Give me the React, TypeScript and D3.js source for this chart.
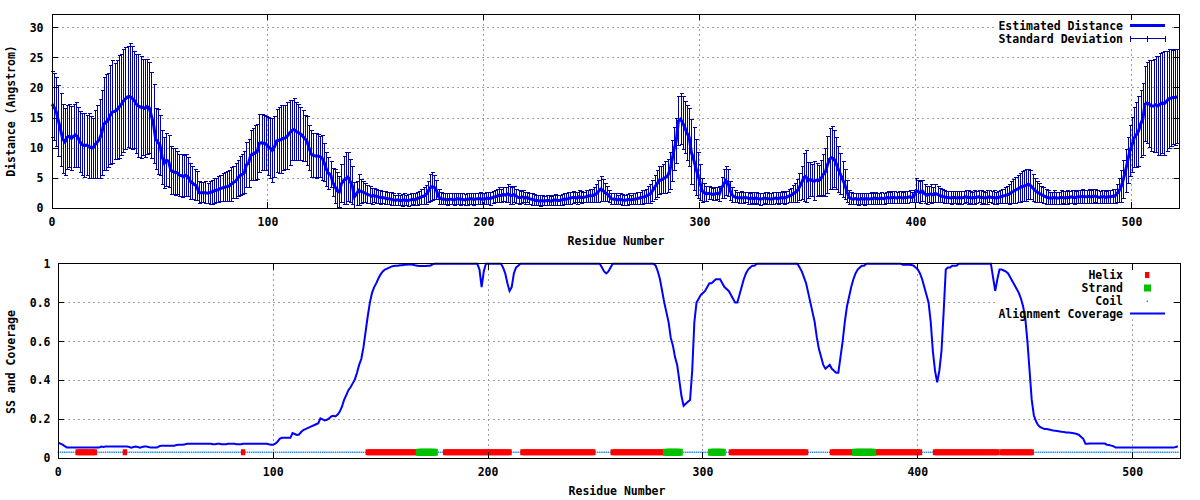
import React from "react";
import * as d3 from "d3";

// ---------- DATA ----------
// Estimated distance per residue (Angstrom), residues 0..521
const meanDistance: number[] = [
  17.3,16.8,16.0,14.5,13.0,11.5,11.0,11.8,12.0,11.6,
  12.0,12.2,11.8,11.0,10.6,10.4,10.5,10.3,10.1,10.0,
  10.6,11.0,11.5,12.5,14.0,14.3,14.6,15.5,16.0,16.1,
  16.3,16.8,17.2,17.8,18.2,18.5,18.6,18.3,18.0,17.3,
  17.0,16.8,16.8,16.6,16.9,16.7,15.4,14.0,11.5,11.0,
  10.5,8.5,7.5,8.0,7.8,6.3,6.1,6.0,5.9,5.5,
  5.4,5.3,5.5,5.2,4.5,4.2,3.9,3.7,2.6,2.6,
  2.6,2.6,2.5,2.6,2.7,2.9,3.0,3.1,3.3,3.4,
  3.5,3.6,3.7,4.0,4.3,4.5,5.0,5.4,5.6,5.9,
  7.2,7.5,8.8,9.0,9.2,9.4,10.8,10.9,10.8,10.7,
  10.3,10.0,9.6,10.2,11.2,11.3,11.4,11.6,11.7,12.0,
  12.5,12.9,13.1,12.8,12.6,12.4,12.0,11.6,11.2,10.0,
  9.0,8.8,8.7,8.7,8.6,8.4,7.6,6.5,5.8,5.6,
  4.3,3.6,2.9,2.7,4.1,4.6,4.9,5.2,4.5,3.8,
  1.9,2.4,3.0,2.8,2.7,2.5,2.3,2.2,2.0,2.1,
  2.0,1.9,1.8,1.8,1.7,1.6,1.6,1.5,1.4,1.3,
  1.4,1.3,1.3,1.4,1.3,1.3,1.4,1.5,1.4,1.6,
  1.7,1.9,2.0,2.2,2.7,3.4,3.6,3.5,3.0,1.9,
  1.6,1.5,1.5,1.4,1.5,1.5,1.4,1.5,1.6,1.5,
  1.5,1.4,1.5,1.5,1.6,1.5,1.5,1.6,1.6,1.5,
  1.6,1.6,1.7,1.6,1.8,1.9,2.0,2.2,2.1,2.3,
  2.2,2.4,2.2,2.1,2.3,2.0,1.8,1.8,1.9,1.7,
  1.8,1.6,1.5,1.4,1.3,1.3,1.2,1.3,1.2,1.3,
  1.3,1.2,1.3,1.4,1.3,1.3,1.4,1.5,1.5,1.6,
  1.7,1.8,1.8,1.7,1.9,1.8,1.8,1.9,2.0,2.1,
  2.1,2.2,2.4,2.8,3.2,3.0,2.6,2.4,2.0,1.6,
  1.5,1.5,1.4,1.5,1.4,1.3,1.4,1.5,1.4,1.5,
  1.5,1.6,1.7,1.8,1.9,2.0,2.2,2.4,2.9,3.5,
  4.0,4.6,4.7,4.9,5.1,5.4,6.2,7.9,9.8,11.2,
  14.5,14.8,14.2,13.4,12.5,11.8,9.3,8.2,6.8,5.5,
  4.3,2.9,2.6,2.4,2.5,2.4,2.3,2.4,2.5,2.4,
  3.4,4.0,4.6,4.2,2.9,2.2,1.9,1.8,1.7,1.8,
  1.7,1.8,1.7,1.6,1.7,1.6,1.7,1.6,1.5,1.6,
  1.7,1.6,1.6,1.5,1.6,1.7,1.6,1.7,1.8,1.7,
  1.8,2.0,2.1,2.4,2.6,2.9,3.5,4.2,5.1,5.3,
  4.6,4.8,4.6,4.5,4.7,4.6,4.9,5.6,6.0,7.2,
  8.2,8.4,8.2,7.5,6.5,5.7,4.8,4.0,2.8,1.8,
  1.6,1.5,1.6,1.5,1.5,1.6,1.5,1.6,1.5,1.6,
  1.6,1.7,1.6,1.6,1.7,1.6,1.7,1.8,1.7,1.8,
  1.8,1.7,1.8,1.8,1.7,1.8,1.8,1.9,1.8,1.9,
  2.9,2.8,2.6,2.9,2.4,2.2,2.3,2.4,2.2,2.5,
  2.3,2.1,2.0,1.9,1.8,1.8,1.7,1.8,1.8,1.7,
  1.8,1.7,1.8,1.9,1.8,1.8,1.7,1.8,1.8,1.9,
  1.8,1.8,1.7,1.8,1.9,1.8,1.8,1.7,1.8,1.9,
  2.0,2.1,2.2,2.3,2.6,2.8,3.0,3.2,3.4,3.6,
  3.7,3.8,4.0,3.8,3.4,3.0,2.7,2.5,2.3,2.1,
  1.9,1.8,1.7,1.7,1.8,1.7,1.7,1.8,1.8,1.7,
  1.8,1.8,1.9,1.8,1.8,1.9,1.9,2.0,1.9,1.9,
  2.0,1.9,2.0,2.0,1.9,1.8,1.9,1.9,1.8,1.9,
  1.9,2.0,2.0,2.4,2.9,3.6,4.8,6.2,7.9,9.5,
  10.5,11.7,12.2,12.8,14.0,14.8,17.3,17.5,17.3,17.0,
  17.0,17.2,17.0,17.3,17.5,17.4,17.8,18.2,18.3,18.4,
  18.4,18.5,
];

// Standard deviation per residue (Angstrom)
const stdDeviation: number[] = [
  5.5,5.6,5.8,5.9,6.0,5.8,5.6,5.3,5.2,5.3,
  5.2,5.4,5.0,5.1,5.2,5.3,5.0,5.4,5.2,5.0,
  5.6,6.0,6.5,7.0,7.8,8.0,7.8,8.2,8.5,8.0,
  8.2,8.6,8.4,8.6,8.5,8.4,8.7,8.5,8.0,8.2,
  8.6,8.5,8.0,8.2,7.9,7.6,7.2,6.5,5.0,5.4,
  5.0,4.5,4.2,4.4,4.3,4.0,3.8,3.9,3.6,3.5,
  3.6,3.4,3.5,3.2,3.0,2.8,2.6,2.4,1.8,1.7,
  1.7,1.8,1.7,1.9,2.0,2.1,2.0,2.2,2.2,2.3,
  2.4,2.5,2.6,2.8,2.7,2.9,3.0,3.2,3.3,3.5,
  3.8,4.0,4.2,4.3,4.5,4.6,4.8,4.7,4.6,4.5,
  4.8,5.0,5.3,5.0,5.2,5.5,5.6,5.4,5.3,5.5,
  5.4,5.0,5.2,4.8,4.6,4.4,4.2,3.9,4.1,3.8,
  3.9,3.6,3.8,3.5,3.4,3.7,3.2,2.8,2.6,2.2,
  2.3,2.8,3.0,2.6,3.2,4.0,4.3,4.0,3.6,3.2,
  2.4,2.0,2.6,2.0,1.8,1.6,1.5,1.4,1.3,1.2,
  1.2,1.1,1.2,1.0,1.1,1.0,1.0,1.1,1.0,0.9,
  1.0,0.9,1.0,1.0,0.9,1.0,1.0,0.9,1.0,1.1,
  1.1,1.2,1.4,1.6,1.8,2.2,2.3,2.0,1.6,1.2,
  1.0,0.9,0.9,1.0,0.9,0.9,1.0,0.9,0.9,1.0,
  0.9,0.9,1.0,0.9,0.9,1.0,0.9,0.9,1.0,0.9,
  0.9,1.0,1.0,1.1,1.0,1.0,1.1,1.2,1.1,1.2,
  1.3,1.5,1.5,1.4,1.3,1.2,1.1,1.0,1.0,1.0,
  0.9,0.9,1.0,0.9,0.9,0.8,0.9,0.9,0.8,0.9,
  0.9,0.8,0.9,0.9,0.9,0.8,0.9,0.9,0.9,1.0,
  1.0,1.0,0.9,1.0,1.0,1.0,0.9,1.0,1.0,1.1,
  1.1,1.2,1.5,1.9,2.1,1.8,1.5,1.2,1.0,0.9,
  0.9,0.9,0.8,0.9,0.9,0.8,0.9,0.9,0.8,0.9,
  0.9,1.0,1.0,1.1,1.1,1.2,1.4,1.6,1.8,2.0,
  2.2,2.3,2.2,2.4,2.6,2.7,3.0,3.4,3.6,3.8,
  4.0,4.2,4.4,4.3,4.6,4.8,5.4,5.2,4.6,3.8,
  3.0,2.0,1.5,1.2,1.1,1.0,1.0,1.1,1.0,1.2,
  1.8,2.4,2.4,2.2,1.6,1.2,1.0,0.9,0.9,1.0,
  0.9,0.9,1.0,0.9,0.9,1.0,0.9,0.9,1.0,0.9,
  0.9,1.0,0.9,0.9,1.0,0.9,1.0,0.9,1.0,1.0,
  1.0,1.1,1.2,1.4,1.6,1.9,2.2,2.8,4.0,4.3,
  3.0,2.8,2.6,3.2,2.7,2.5,3.0,3.4,4.0,4.8,
  5.0,5.2,4.8,4.3,3.8,3.4,3.0,2.5,1.8,1.2,
  1.0,0.9,0.9,1.0,0.9,0.9,1.0,0.9,0.9,1.0,
  0.9,1.0,0.9,0.9,1.0,0.9,0.9,1.0,0.9,1.0,
  1.0,0.9,1.0,1.0,0.9,1.0,1.0,1.0,0.9,1.0,
  2.0,1.9,1.8,1.7,1.6,1.5,1.4,1.6,1.3,1.5,
  1.3,1.2,1.1,1.1,1.0,1.0,1.1,1.0,1.0,1.1,
  1.0,1.1,1.0,1.0,1.1,1.0,1.0,1.1,1.0,1.0,
  1.1,1.0,1.0,1.1,1.0,1.0,1.1,1.0,1.0,1.1,
  1.2,1.3,1.4,1.6,1.8,2.0,2.2,2.3,2.4,2.5,
  2.6,2.6,2.5,2.4,2.2,2.0,1.8,1.6,1.4,1.3,
  1.2,1.1,1.0,1.0,1.1,1.0,1.0,1.1,1.0,1.1,
  1.1,1.0,1.1,1.1,1.0,1.1,1.1,1.2,1.1,1.1,
  1.2,1.1,1.2,1.1,1.1,1.0,1.1,1.1,1.0,1.1,
  1.1,1.2,1.2,1.5,2.0,2.6,3.2,3.6,3.8,4.2,
  4.6,5.0,5.4,5.8,5.5,6.0,6.2,6.8,7.2,7.5,
  7.8,8.0,8.2,8.5,8.4,8.6,8.3,8.2,8.0,7.8,
  8.0,7.8,
];

// Alignment coverage per residue (fraction)
const coverage: number[] = [
  .080,.075,.070,.062,.056,.055,.055,.055,.055,.055,
  .055,.055,.055,.055,.055,.055,.055,.055,.055,.055,
  .060,.058,.060,.060,.060,.060,.060,.060,.060,.060,
  .060,.060,.060,.058,.055,.058,.060,.058,.055,.058,
  .060,.060,.058,.055,.055,.055,.055,.062,.065,.065,
  .065,.065,.065,.065,.065,.068,.070,.070,.070,.072,
  .075,.075,.075,.075,.075,.075,.075,.075,.075,.075,
  .075,.075,.072,.072,.075,.075,.072,.072,.072,.075,
  .075,.075,.075,.072,.072,.072,.075,.075,.075,.075,
  .075,.075,.075,.075,.075,.075,.075,.075,.072,.070,
  .070,.075,.085,.100,.105,.105,.105,.105,.105,.130,
  .125,.120,.122,.135,.145,.150,.155,.160,.165,.170,
  .175,.180,.205,.200,.195,.198,.205,.215,.218,.215,
  .225,.240,.265,.300,.325,.350,.365,.385,.405,.440,
  .480,.510,.570,.650,.730,.800,.850,.880,.900,.925,
  .945,.960,.970,.975,.980,.985,.988,.990,.990,.992,
  .992,.995,.995,.996,.996,.995,.992,.990,.988,.988,
  .988,.988,.990,.990,.995,1,1,1,1,1,
  1,1,1,1,1,1,1,1,1,1,
  1,1,1,1,1,1,.97,.88,.96,1,
  1,1,1,1,1,1,1,.98,.95,.90,
  .86,.88,.95,.98,.99,1,1,1,1,1,
  1,1,1,1,1,1,1,1,1,1,
  1,1,1,1,1,1,1,1,1,1,
  1,1,1,1,1,1,1,1,1,1,
  1,1,1,.98,.96,.95,.96,.98,1,1,
  1,1,1,1,1,1,1,1,1,1,
  1,1,1,1,1,1,1,1,.99,.96,
  .92,.86,.80,.75,.70,.62,.58,.52,.48,.40,
  .32,.27,.28,.29,.30,.45,.70,.80,.82,.84,
  .85,.86,.88,.90,.90,.91,.92,.92,.92,.90,
  .88,.87,.86,.84,.82,.80,.80,.84,.88,.92,
  .95,.97,.98,.99,.99,1,1,1,1,1,
  1,1,1,1,1,1,1,1,1,1,
  1,1,1,1,1,.98,.96,.93,.90,.85,
  .80,.75,.70,.62,.56,.52,.48,.46,.47,.48,
  .46,.45,.44,.44,.52,.60,.70,.78,.83,.88,
  .92,.95,.97,.98,.99,.99,1,1,1,1,
  1,1,1,1,1,1,1,1,1,1,
  1,1,1,.995,.995,.995,.995,.993,.99,.98,
  .97,.95,.92,.88,.84,.80,.70,.55,.45,.39,
  .45,.55,.75,.97,.98,.98,.99,.99,.99,1,
  1,1,1,1,1,1,1,1,1,1,
  1,1,1,1,1,.93,.86,.92,.97,.97,
  .965,.96,.95,.93,.91,.89,.87,.85,.82,.78,
  .72,.60,.45,.30,.22,.19,.17,.16,.155,.15,
  .15,.148,.145,.143,.142,.14,.138,.136,.135,.133,
  .132,.131,.13,.128,.125,.12,.11,.10,.075,.075,
  .076,.076,.076,.076,.076,.076,.076,.076,.07,.068,
  .065,.062,.055,.055,.055,.055,.055,.055,.055,.055,
  .055,.055,.055,.055,.055,.055,.055,.055,.055,.055,
  .055,.055,.055,.055,.055,.055,.055,.055,.055,.055,
  .058,.062,
];

// Secondary structure segments [first residue, last residue]
const helixSegments: [number, number][] = [
  [9, 17], [31, 31], [86, 86], [144, 167], [180, 210], [216, 249],
  [258, 282], [313, 348], [360, 370], [380, 401], [408, 437], [439, 453],
];
const strandSegments: [number, number][] = [
  [168, 175], [283, 289], [304, 309], [371, 379],
];
const ssLevel = 0.031;

const distanceTicks = [0, 5, 10, 15, 20, 25, 30];
const coverageTicks = [0, 0.2, 0.4, 0.6, 0.8, 1];
const coverageTickLabels = ["0", "0.2", "0.4", "0.6", "0.8", "1"];
const residueTicks = [0, 100, 200, 300, 400, 500];

const topLegend = ["Estimated Distance", "Standard Deviation"];
const bottomLegend = ["Helix", "Strand", "Coil", "Alignment Coverage"];

// ---------- COMPONENT ----------
const FONT = "'DejaVu Sans Mono', 'Liberation Mono', monospace";
const FS = 11.5;
const GRID = "#a0a0a0";
const BAR = "#0000a8";

export default function App() {
  const n = meanDistance.length;
  const idx = d3.range(n);

  // Top panel
  const L1 = 52, R1 = 1179.5, T1 = 14, B1 = 208.3;
  const x1 = d3.scaleLinear().domain([0, 522]).range([L1, R1]);
  const y1 = d3.scaleLinear().domain([0, 32.28]).range([B1, T1]);

  // Bottom panel
  const L2 = 58.3, R2 = 1180, T2 = 263.7, B2 = 458.3;
  const x2 = d3.scaleLinear().domain([0, 522]).range([L2, R2]);
  const y2 = d3.scaleLinear().domain([0, 1]).range([B2, T2]);

  const meanLine = d3.line<number>().x((i) => x1(i)).y((i) => y1(meanDistance[i]))(idx) || "";
  const covLine = d3.line<number>().x((i) => x2(i)).y((i) => y2(coverage[i]))(idx) || "";

  // error bars path
  const eb = d3.path();
  idx.forEach((i) => {
    const cx = Math.round(x1(i)) + 0.5;
    const lo = y1(Math.max(0, meanDistance[i] - stdDeviation[i]));
    const hi = y1(meanDistance[i] + stdDeviation[i]);
    eb.moveTo(cx, lo); eb.lineTo(cx, hi);
    eb.moveTo(cx - 2, hi); eb.lineTo(cx + 2, hi);
    eb.moveTo(cx - 2, lo); eb.lineTo(cx + 2, lo);
  });

  const ss: string[] = idx.map(() => "C");
  helixSegments.forEach(([a, b]) => { for (let i = a; i <= b; i++) ss[i] = "H"; });
  strandSegments.forEach(([a, b]) => { for (let i = a; i <= b; i++) ss[i] = "E"; });

  const txt = { fontFamily: FONT, fontSize: FS, fontWeight: 700 as const, fill: "#000" };
  const tick = 6;

  const grid1 = (
    <g stroke={GRID} strokeWidth={1} strokeDasharray="2,3" shapeRendering="crispEdges">
      {residueTicks.slice(1).map((t) => (
        <line key={"gx" + t} x1={x1(t)} x2={x1(t)} y1={T1} y2={B1} />
      ))}
      {distanceTicks.slice(1).map((t) => (
        <line key={"gy" + t} x1={L1} x2={R1} y1={y1(t)} y2={y1(t)} />
      ))}
    </g>
  );
  const grid2 = (
    <g stroke={GRID} strokeWidth={1} strokeDasharray="2,3" shapeRendering="crispEdges">
      {residueTicks.slice(1).map((t) => (
        <line key={"gx" + t} x1={x2(t)} x2={x2(t)} y1={T2} y2={B2} />
      ))}
      {coverageTicks.slice(1, -1).map((t) => (
        <line key={"gy" + t} x1={L2} x2={R2} y1={y2(t)} y2={y2(t)} />
      ))}
    </g>
  );

  const legX = 1123; // right end of legend text
  const sampleA = 1130, sampleB = 1165, sampleM = 1147.5;

  return (
    <div style={{ position: "absolute", left: 0, top: 0 }}>
      <svg width={1200} height={500} style={{ display: "block", background: "#fff" }}>
        <rect x={0} y={0} width={1200} height={500} fill="#fff" />

        {/* ===== TOP PANEL ===== */}
        {grid1}
        <rect x={995} y={T1 + 0.5} width={177} height={32} fill="#fff" />
        <path d={eb.toString()} stroke={BAR} strokeWidth={1} fill="none" shapeRendering="crispEdges" />
        <path d={meanLine} stroke="#0000ff" strokeWidth={3} fill="none" strokeLinejoin="miter" />

        <g stroke="#000" strokeWidth={1} shapeRendering="crispEdges">
          <rect x={L1} y={T1} width={R1 - L1} height={B1 - T1} fill="none" />
          {residueTicks.map((t) => (
            <g key={"tx" + t}>
              <line x1={x1(t)} x2={x1(t)} y1={B1} y2={B1 - tick} />
              <line x1={x1(t)} x2={x1(t)} y1={T1} y2={T1 + tick} />
            </g>
          ))}
          {distanceTicks.map((t) => (
            <g key={"ty" + t}>
              <line x1={L1} x2={L1 + tick} y1={y1(t)} y2={y1(t)} />
              <line x1={R1} x2={R1 - tick} y1={y1(t)} y2={y1(t)} />
            </g>
          ))}
        </g>
        {distanceTicks.map((t) => (
          <text key={"ly" + t} x={43.5} y={y1(t)} textAnchor="end" dominantBaseline="central" {...txt}>{t}</text>
        ))}
        {residueTicks.map((t) => (
          <text key={"lx" + t} x={x1(t)} y={222} textAnchor="middle" dominantBaseline="central" {...txt}>{t}</text>
        ))}
        <text x={616} y={241} textAnchor="middle" dominantBaseline="central" {...txt}>Residue Number</text>
        <text transform={`translate(11,111) rotate(-90)`} textAnchor="middle" dominantBaseline="central" {...txt}>Distance (Angstrom)</text>

        {/* top legend */}
        <text x={legX} y={26} textAnchor="end" dominantBaseline="central" {...txt}>{topLegend[0]}</text>
        <line x1={sampleA} x2={sampleB} y1={25.5} y2={25.5} stroke="#0000ff" strokeWidth={3} />
        <text x={legX} y={39} textAnchor="end" dominantBaseline="central" {...txt}>{topLegend[1]}</text>
        <g stroke={BAR} strokeWidth={1} shapeRendering="crispEdges">
          <line x1={sampleA} x2={sampleB} y1={38.5} y2={38.5} />
          {[sampleA, sampleM, sampleB].map((sx) => (
            <line key={"ls" + sx} x1={sx} x2={sx} y1={35.5} y2={41.5} />
          ))}
        </g>

        {/* ===== BOTTOM PANEL ===== */}
        {grid2}
        <rect x={995} y={T2 + 0.5} width={177} height={55} fill="#fff" />

        {/* coil dots */}
        <g fill="#1e90ff">
          {idx.filter((i) => ss[i] === "C").map((i) => (
            <rect key={"c" + i} x={x2(i) - 0.75} y={y2(ssLevel) - 0.75} width={1.5} height={1.5} />
          ))}
        </g>
        <g fill="#ff0000">
          {idx.filter((i) => ss[i] === "H").map((i) => (
            <rect key={"h" + i} x={x2(i) - 2.2} y={y2(ssLevel) - 3} width={4.4} height={6} />
          ))}
        </g>
        <g fill="#00c000">
          {idx.filter((i) => ss[i] === "E").map((i) => (
            <rect key={"e" + i} x={x2(i) - 3.5} y={y2(ssLevel) - 3.5} width={7} height={7} />
          ))}
        </g>
        <path d={covLine} stroke="#0000ff" strokeWidth={2} fill="none" />

        <g stroke="#000" strokeWidth={1} shapeRendering="crispEdges">
          <rect x={L2} y={T2} width={R2 - L2} height={B2 - T2} fill="none" />
          {residueTicks.map((t) => (
            <g key={"tx2" + t}>
              <line x1={x2(t)} x2={x2(t)} y1={B2} y2={B2 - tick} />
              <line x1={x2(t)} x2={x2(t)} y1={T2} y2={T2 + tick} />
            </g>
          ))}
          {coverageTicks.map((t) => (
            <g key={"ty2" + t}>
              <line x1={L2} x2={L2 + tick} y1={y2(t)} y2={y2(t)} />
              <line x1={R2} x2={R2 - tick} y1={y2(t)} y2={y2(t)} />
            </g>
          ))}
        </g>
        {coverageTicks.map((t, k) => (
          <text key={"ly2" + t} x={50.5} y={y2(t)} textAnchor="end" dominantBaseline="central" {...txt}>{coverageTickLabels[k]}</text>
        ))}
        {residueTicks.map((t) => (
          <text key={"lx2" + t} x={x2(t)} y={471.7} textAnchor="middle" dominantBaseline="central" {...txt}>{t}</text>
        ))}
        <text x={617} y={491} textAnchor="middle" dominantBaseline="central" {...txt}>Residue Number</text>
        <text transform={`translate(11,362) rotate(-90)`} textAnchor="middle" dominantBaseline="central" {...txt}>SS and Coverage</text>

        {/* bottom legend */}
        <text x={legX} y={275} textAnchor="end" dominantBaseline="central" {...txt}>{bottomLegend[0]}</text>
        <rect x={1145} y={272} width={4.4} height={6} fill="#ff0000" />
        <text x={legX} y={288} textAnchor="end" dominantBaseline="central" {...txt}>{bottomLegend[1]}</text>
        <rect x={1144} y={284.5} width={7} height={7} fill="#00c000" />
        <text x={legX} y={301} textAnchor="end" dominantBaseline="central" {...txt}>{bottomLegend[2]}</text>
        <rect x={1146.5} y={300.5} width={1.5} height={1.5} fill="#1e90ff" />
        <text x={legX} y={313.5} textAnchor="end" dominantBaseline="central" {...txt}>{bottomLegend[3]}</text>
        <line x1={sampleA} x2={sampleB} y1={313.5} y2={313.5} stroke="#0000ff" strokeWidth={2} />
      </svg>
    </div>
  );
}
